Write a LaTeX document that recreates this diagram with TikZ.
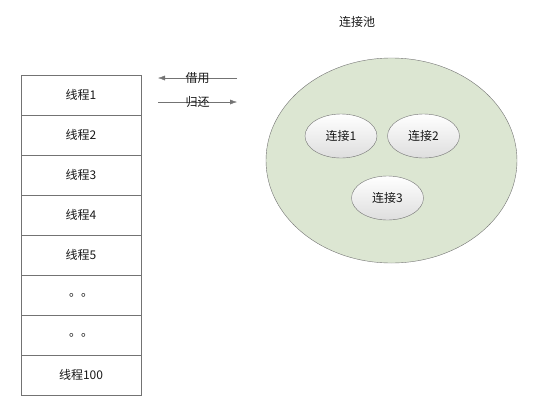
\documentclass[tikz,border=0pt]{standalone}
\usepackage{fontspec}
\setmainfont{Noto Sans CJK SC}
\usetikzlibrary{positioning}
\usetikzlibrary{shapes.geometric}
\usetikzlibrary{arrows.meta}
\colorlet{line}{black!55}
\definecolor{poolgreen}{HTML}{DCE6D2}
\tikzset{>={Latex[length=7pt,width=5pt]}}
\tikzset{
  row/.style = {draw=line, minimum width=120pt, minimum height=40pt, inner sep=0pt},
  conn/.style = {ellipse, draw=line, minimum width=72pt, minimum height=44pt, inner sep=0pt, top color=white, bottom color=black!13}
}

\begin{document}
\begin{tikzpicture}[x=1pt,y=-1pt,font=\fontsize{12}{14}\selectfont,text=black!90]
  \useasboundingbox (0,0) rectangle (536,400);
  % thread table
  \foreach \t [count=\i] in {线程1,线程2,线程3,线程4,线程5,。。,。。,线程100}
    \node[row] (r\i) at (81,55+40*\i) {\t};
  % borrow / return
  \coordinate (b1) at (237,78);
  \coordinate (b2) at (158,78);
  \coordinate (g1) at (158,102);
  \coordinate (g2) at (237,102);
  \draw[->,line] (b1) -- node[text=black!90] {借用} (b2);
  \draw[->,line] (g1) -- node[text=black!90] {归还} (g2);
  % pool
  \node (title) at (357,22) {连接池};
  \node (pool) at (391.5,160.5) [ellipse, draw=line, fill=poolgreen, minimum width=251pt, minimum height=205pt] {};
  \node[conn] (c1) at (341,136) {连接1};
  \node[conn] (c2) at (423.5,136) {连接2};
  \node[conn] (c3) at (387.5,198) {连接3};
\end{tikzpicture}
\end{document}
